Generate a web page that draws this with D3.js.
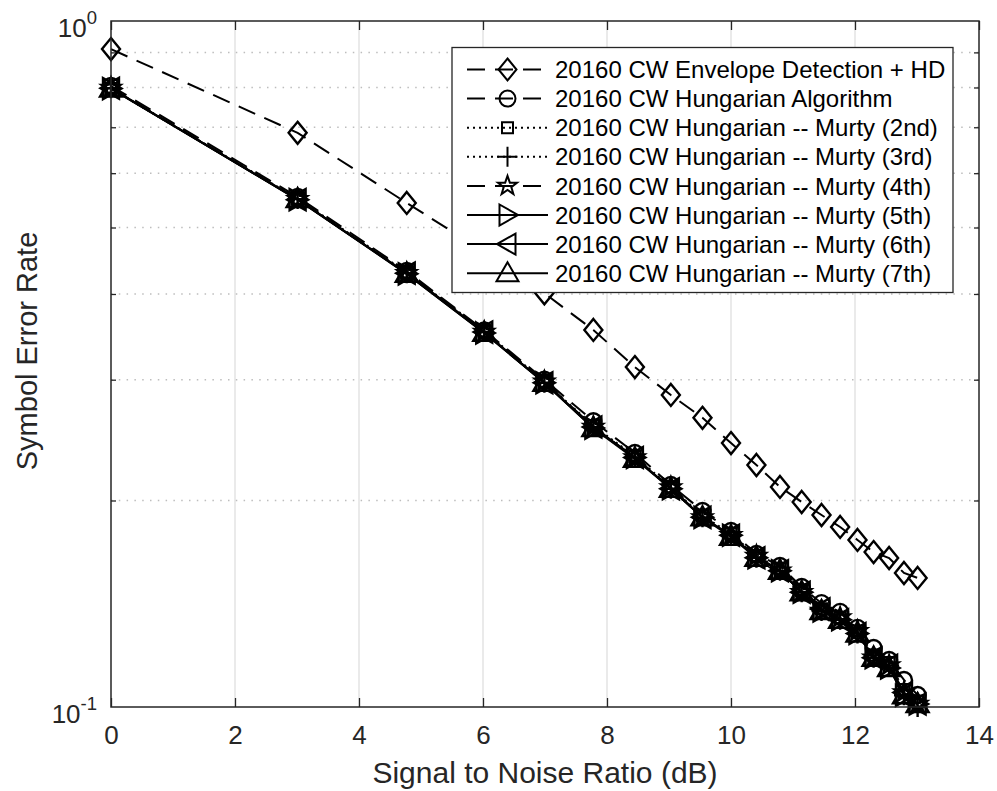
<!DOCTYPE html>
<html>
<head>
<meta charset="utf-8">
<script src="https://cdn.jsdelivr.net/npm/d3@7"></script>
<style>
  body { margin: 0; background: #fff; }
  svg { display: block; font-family: "Liberation Sans", Arial, Helvetica, sans-serif; }
</style>
</head>
<body>
<svg id="chart" width="997" height="791"></svg>
<script>
// SNR points (dB)
const snr = [0, 3.01, 4.77, 6.02, 6.99, 7.78, 8.45, 9.03, 9.54, 10, 10.41, 10.79, 11.14, 11.46, 11.76, 12.04, 12.30, 12.55, 12.79, 13.01];

// Symbol error rate per detector
const serEnvelope  = [0.910, 0.687, 0.543, 0.461, 0.401, 0.3545, 0.313, 0.285, 0.264, 0.2425, 0.2253, 0.2093, 0.1990, 0.1905, 0.1830, 0.1752, 0.1682, 0.1649, 0.1568, 0.1542];
const serHungarian = [0.804, 0.554, 0.432, 0.354, 0.300, 0.261, 0.2346, 0.2107, 0.1931, 0.1805, 0.1671, 0.1605, 0.1496, 0.1417, 0.1376, 0.1304, 0.1219, 0.1171, 0.1095, 0.1041];
const serMurty2    = [0.797, 0.551, 0.430, 0.353, 0.298, 0.257, 0.232, 0.209, 0.190, 0.179, 0.166, 0.159, 0.148, 0.139, 0.135, 0.129, 0.119, 0.116, 0.106, 0.102];
const serMurty3    = [0.798, 0.550, 0.429, 0.352, 0.297, 0.256, 0.231, 0.208, 0.189, 0.178, 0.165, 0.158, 0.147, 0.138, 0.134, 0.128, 0.118, 0.115, 0.104, 0.100];
const serMurty4    = [0.799, 0.550, 0.429, 0.352, 0.298, 0.256, 0.231, 0.209, 0.189, 0.178, 0.166, 0.158, 0.147, 0.138, 0.135, 0.129, 0.118, 0.115, 0.105, 0.101];
const serMurty5    = [0.797, 0.549, 0.428, 0.351, 0.297, 0.255, 0.231, 0.208, 0.189, 0.178, 0.165, 0.158, 0.147, 0.138, 0.134, 0.128, 0.118, 0.114, 0.104, 0.101];
const serMurty6    = [0.798, 0.549, 0.429, 0.352, 0.297, 0.256, 0.231, 0.208, 0.189, 0.178, 0.165, 0.158, 0.147, 0.139, 0.134, 0.128, 0.118, 0.115, 0.105, 0.101];
const serMurty7    = [0.797, 0.550, 0.428, 0.351, 0.297, 0.255, 0.230, 0.208, 0.189, 0.177, 0.165, 0.158, 0.147, 0.138, 0.134, 0.128, 0.118, 0.114, 0.104, 0.101];

const seriesNames = [
  "20160 CW Envelope Detection + HD",
  "20160 CW Hungarian Algorithm",
  "20160 CW Hungarian -- Murty (2nd)",
  "20160 CW Hungarian -- Murty (3rd)",
  "20160 CW Hungarian -- Murty (4th)",
  "20160 CW Hungarian -- Murty (5th)",
  "20160 CW Hungarian -- Murty (6th)",
  "20160 CW Hungarian -- Murty (7th)"
];
const seriesValues = [serEnvelope, serHungarian, serMurty2, serMurty3, serMurty4, serMurty5, serMurty6, serMurty7];

const xTicks = [0, 2, 4, 6, 8, 10, 12, 14];
const yMinorTicks = [0.2, 0.3, 0.4, 0.5, 0.6, 0.7, 0.8, 0.9];
const yMajorTicks = [{ v: 1, exp: "0" }, { v: 0.1, exp: "-1" }];

// line style + marker per series
const DASH = "18,10", DOT = "2,4";
const styles = [
  { dash: DASH, marker: "diamond" },
  { dash: DASH, marker: "circle" },
  { dash: DOT,  marker: "square" },
  { dash: DOT,  marker: "plus" },
  { dash: DASH, marker: "star" },
  { dash: null, marker: "triRight" },
  { dash: null, marker: "triLeft" },
  { dash: null, marker: "triUp" }
];

function starPath(R, r) {
  const pts = [];
  for (let i = 0; i < 10; i++) {
    const a = -Math.PI / 2 + i * Math.PI / 5;
    const rad = i % 2 === 0 ? R : r;
    pts.push([rad * Math.cos(a), rad * Math.sin(a)]);
  }
  return "M" + pts.map(p => p[0].toFixed(2) + "," + p[1].toFixed(2)).join("L") + "Z";
}
const markerPaths = {
  diamond: "M0,-11L9,0L0,11L-9,0Z",
  circle: "M8,0A8,8 0 1,1 -8,0A8,8 0 1,1 8,0Z",
  square: "M-5.5,-5.5H5.5V5.5H-5.5Z",
  plus: "M-10,0H10M0,-10V10",
  star: starPath(10, 4),
  triRight: "M-8,-10.5L10.5,0L-8,10.5Z",
  triLeft: "M8,-10.5L-10.5,0L8,10.5Z",
  triUp: "M0,-11L11,8L-11,8Z"
};

const AX = "#262626";
const svg = d3.select("#chart");
const L = 111, R = 979, T = 21, B = 707;

const x = d3.scaleLinear().domain([0, 14]).range([L, R]);
const y = d3.scaleLog().domain([0.1, 1]).range([B, T]);

// grid
const grid = svg.append("g");
grid.selectAll("line.vg").data(xTicks.filter(t => t > 0 && t < 14)).join("line")
  .attr("x1", d => x(d)).attr("x2", d => x(d)).attr("y1", T).attr("y2", B)
  .attr("stroke", "#e3e3e3").attr("stroke-width", 1.5);
grid.selectAll("line.hg").data(yMinorTicks).join("line")
  .attr("x1", L).attr("x2", R).attr("y1", d => y(d)).attr("y2", d => y(d))
  .attr("stroke", "#bdbdbd").attr("stroke-width", 1.5).attr("stroke-dasharray", "1.5,6.3");

// axes (ticks pointing inward)
const xAxisB = d3.axisBottom(x).tickValues(xTicks).tickSizeInner(-9).tickSizeOuter(0).tickPadding(19).tickFormat(d3.format("d"));
const gxb = svg.append("g").attr("transform", `translate(0,${B})`).call(xAxisB);
const gxt = svg.append("g").attr("transform", `translate(0,${T})`)
  .call(d3.axisTop(x).tickValues(xTicks).tickSizeInner(-9).tickSizeOuter(0).tickFormat(""));
const gyl = svg.append("g").attr("transform", `translate(${L},0)`)
  .call(d3.axisLeft(y).tickValues(yMinorTicks).tickSizeInner(-5).tickSizeOuter(0).tickFormat(""));
const gyr = svg.append("g").attr("transform", `translate(${R},0)`)
  .call(d3.axisRight(y).tickValues(yMinorTicks).tickSizeInner(-5).tickSizeOuter(0).tickFormat(""));
[gxb, gxt, gyl, gyr].forEach(g => {
  g.select(".domain").remove();
  g.selectAll(".tick line").attr("stroke", AX).attr("stroke-width", 1.3);
});
gxb.attr("font-size", 26).attr("font-family", "Liberation Sans, Arial, sans-serif");
gxb.selectAll(".tick text").attr("fill", AX);

// y major labels as powers of ten
const yl = svg.append("g");
yMajorTicks.forEach(t => {
  const txt = yl.append("text").attr("x", 97).attr("y", y(t.v) + 16)
    .attr("text-anchor", "end").attr("fill", AX).attr("font-size", 26);
  txt.append("tspan").text("10");
  txt.append("tspan").attr("font-size", 18.5).attr("dy", -13.5).text(t.exp);
});

// series
const line = d3.line().x(d => x(d[0])).y(d => y(d[1]));
seriesValues.forEach((vals, i) => {
  const pts = snr.map((s, j) => [s, vals[j]]);
  const g = svg.append("g");
  g.append("path").attr("d", line(pts)).attr("fill", "none").attr("stroke", "#000")
    .attr("stroke-width", 2).attr("stroke-dasharray", styles[i].dash);
  g.selectAll("path.m").data(pts).join("path").attr("class", "m")
    .attr("transform", d => `translate(${x(d[0])},${y(d[1])})`)
    .attr("d", markerPaths[styles[i].marker])
    .attr("fill", "none").attr("stroke", "#000").attr("stroke-width", 2.4);
});

// frame
svg.append("rect").attr("x", L).attr("y", T).attr("width", R - L).attr("height", B - T)
  .attr("fill", "none").attr("stroke", AX).attr("stroke-width", 1.5);

// axis titles
svg.append("text").attr("x", (L + R) / 2).attr("y", 783).attr("text-anchor", "middle")
  .attr("fill", AX).attr("font-size", 30).text("Signal to Noise Ratio (dB)");
svg.append("text").attr("transform", "translate(37,351) rotate(-90)").attr("text-anchor", "middle")
  .attr("fill", AX).attr("font-size", 29).text("Symbol Error Rate");

// legend
const lg = svg.append("g");
lg.append("rect").attr("x", 452).attr("y", 47.5).attr("width", 501).attr("height", 245)
  .attr("fill", "#fff").attr("stroke", AX).attr("stroke-width", 1.3);
seriesNames.forEach((name, i) => {
  const cy = 69.5 + i * 29.1;
  lg.append("line").attr("x1", 467).attr("x2", 548).attr("y1", cy).attr("y2", cy)
    .attr("stroke", "#000").attr("stroke-width", 2).attr("stroke-dasharray", styles[i].dash);
  lg.append("path").attr("transform", `translate(507.5,${cy})`).attr("d", markerPaths[styles[i].marker])
    .attr("fill", "none").attr("stroke", "#000").attr("stroke-width", 2);
  lg.append("text").attr("x", 555).attr("y", cy + 8.6).attr("font-size", 24).attr("fill", "#000").text(name);
});
</script>
</body>
</html>
